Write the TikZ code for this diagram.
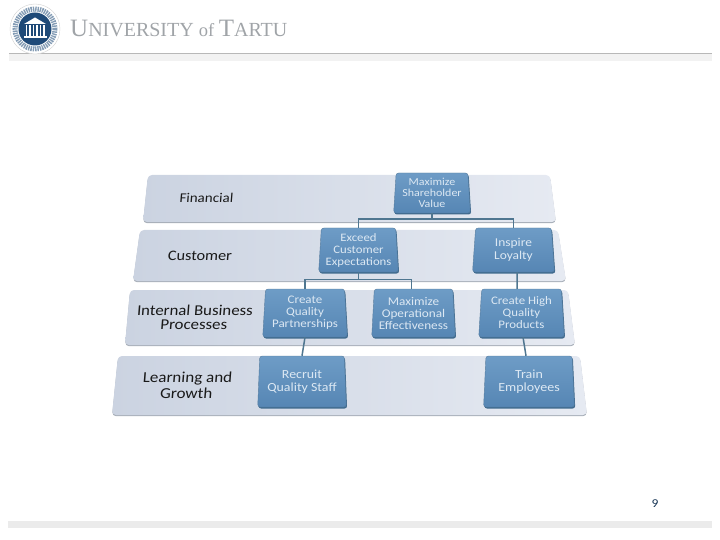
\documentclass[tikz,border=0pt]{standalone}
\usepackage{fontspec}
\setmainfont[FakeStretch=1.12]{Carlito}
\newfontfamily\titlefont{Liberation Serif}
\usetikzlibrary{shapes.geometric,shadows}

\definecolor{bandleft}{HTML}{CBD3E1}
\definecolor{bandright}{HTML}{E6EAF2}
\definecolor{bandedge}{HTML}{A9B0BA}
\definecolor{boxtop}{HTML}{6E9CC6}
\definecolor{boxbottom}{HTML}{5686B4}
\definecolor{boxedge}{HTML}{3F6A8E}
\definecolor{linkblue}{HTML}{4F7690}
\definecolor{boxtext}{HTML}{DCE8F3}
\definecolor{navy}{HTML}{1F4A78}
\definecolor{headgrey}{HTML}{A0A4A8}

\tikzset{
  band/.style={left color=bandleft, right color=bandright, rounded corners=4pt,
    copy shadow={shadow xshift=0pt, shadow yshift=-1.2pt, fill=bandedge, draw=none}},
  goalbox/.style={trapezium, trapezium left angle=86, trapezium right angle=86,
    trapezium stretches=true, inner sep=0pt, rounded corners=2.5pt,
    top color=boxtop, bottom color=boxbottom, draw=boxtop!80!black, line width=.4pt,
    text=boxtext, align=center,
    copy shadow={shadow xshift=.8pt, shadow yshift=-1.5pt, fill=boxedge, draw=none}},
  rowlabel/.style={align=center, text=black!90, xslant=.08, transform shape},
  link/.style={draw=linkblue, line width=1.5pt}
}

\begin{document}
\begin{tikzpicture}[x=1pt, y=-1pt]
  \useasboundingbox (0,0) rectangle (720,540);

  % header
  \fill[black!5] (9,54) rectangle (712,61);
  \draw[black!28, line width=.8pt] (9,53.5) -- (712,53.5);
  \fill[black!8] (8,521) rectangle (712,528);

  \draw[black!18, fill=white] (35,29) circle (25);
  \draw[navy!55, line width=5pt, dash pattern=on 1.4pt off .9pt] (35,29) circle (20);
  \fill[navy] (35,29) circle (16.5);
  \fill[white] (24,24) -- (35,17.5) -- (46,24) -- cycle;
  \foreach \x in {25.5,29,32.5,36,39.5,43}
    \fill[white] (\x,25) rectangle ++(1.7,11);
  \fill[white] (23.5,36.5) rectangle (46.5,38.5);

  \node[anchor=base west, inner sep=0pt, text=headgrey] (title) at (70,37)
    {\titlefont\fontsize{25}{25}\selectfont U\fontsize{20}{20}\selectfont NIVERSITY
     \fontsize{18.5}{18.5}\selectfont of \fontsize{25}{25}\selectfont T\fontsize{20}{20}\selectfont ARTU};

  % bands
  \path[band] (148,175) -- (550,175) -- (556,222) -- (143,222) -- cycle;
  \path[band] (140,230) -- (558,230) -- (566,281) -- (133,281) -- cycle;
  \path[band] (130,290) -- (568,290) -- (575,345) -- (125,345) -- cycle;
  \path[band] (118,356) -- (580,356) -- (587,415) -- (112,415) -- cycle;

  % row labels
  \node[rowlabel, font=\fontsize{13.4}{15}\selectfont] (financial) at (206.5,198) {Financial};
  \node[rowlabel, font=\fontsize{14.5}{16}\selectfont] (customer) at (200,255.5) {Customer};
  \node[rowlabel, font=\fontsize{15}{14.5}\selectfont] (internal) at (194.5,317.5) {Internal Business\\Processes};
  \node[rowlabel, font=\fontsize{15.2}{16}\selectfont] (learning) at (187,385) {Learning and\\Growth};

  % goal boxes
  \node[goalbox, minimum width=77pt, minimum height=40pt, font=\fontsize{10.7}{11}\selectfont] (shareholder) at (432,193) {Maximize\\Shareholder\\Value};
  \node[goalbox, minimum width=80pt, minimum height=44pt, font=\fontsize{11.4}{12}\selectfont] (exceed) at (358.5,250) {Exceed\\Customer\\Expectations};
  \node[goalbox, minimum width=82pt, minimum height=44pt, font=\fontsize{12}{12.5}\selectfont] (loyalty) at (513.5,250) {Inspire\\Loyalty};
  \node[goalbox, minimum width=85pt, minimum height=48pt, font=\fontsize{11.6}{12}\selectfont] (partner) at (305,313) {Create\\Quality\\Partnerships};
  \node[goalbox, minimum width=84pt, minimum height=48pt, font=\fontsize{11.8}{12}\selectfont] (operational) at (413.5,313) {Maximize\\Operational\\Effectiveness};
  \node[goalbox, minimum width=86pt, minimum height=48pt, font=\fontsize{11.5}{12}\selectfont] (products) at (521.5,313) {Create High\\Quality\\Products};
  \node[goalbox, minimum width=89pt, minimum height=51pt, font=\fontsize{12.4}{13.5}\selectfont] (recruit) at (302,381.5) {Recruit\\Quality Staff};
  \node[goalbox, minimum width=91pt, minimum height=51pt, font=\fontsize{12.5}{13.5}\selectfont] (train) at (529,381.5) {Train\\Employees};

  % connectors
  \draw[link] (shareholder.south) -- ++(0,6) -| (exceed.north);
  \draw[link] (shareholder.south) -- ++(0,6) -| (loyalty.north);
  \draw[link] (exceed.south) -- ++(0,7.5) -| (partner.north);
  \draw[link] (exceed.south) -- ++(0,7.5) -| ([xshift=-2pt]operational.north);
  \draw[link] ([xshift=3.5pt]loyalty.south) -- ([xshift=-4.5pt]products.north);
  \draw[link] (partner.south) -- (recruit.north);
  \draw[link] ([xshift=1.5pt]products.south) -- ([xshift=-3pt]train.north);

  % page number
  \node[text=navy!70!black, font=\fontsize{12}{12}\selectfont] (pagenum) at (655,504) {9};
\end{tikzpicture}
\end{document}
